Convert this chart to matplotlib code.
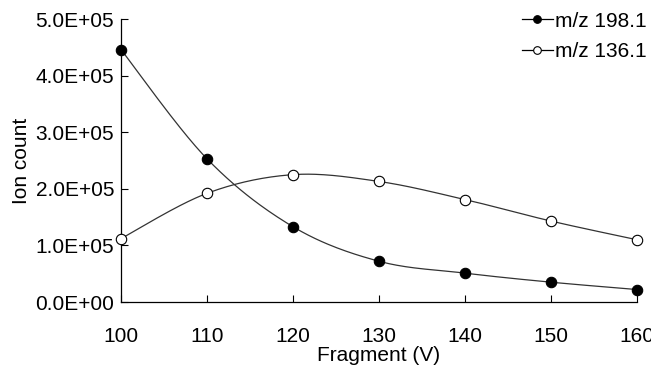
import numpy as np
import matplotlib
matplotlib.use("Agg")
import matplotlib.pyplot as plt
from matplotlib.ticker import FuncFormatter

plt.rcParams['font.family'] = ['Liberation Sans', 'DejaVu Sans']

fragment = [100, 110, 120, 130, 140, 150, 160]
mz198 = [4.46e5, 2.53e5, 1.33e5, 0.72e5, 0.51e5, 0.35e5, 0.22e5]
mz136 = [1.12e5, 1.92e5, 2.25e5, 2.13e5, 1.81e5, 1.43e5, 1.10e5]


def smooth(x, y, n=40):
    # Excel-like smoothed line: cubic Bezier segments, control points from neighbours
    x = np.asarray(x, float)
    y = np.asarray(y, float)
    px = np.concatenate([[x[0]], x, [x[-1]]])
    py = np.concatenate([[y[0]], y, [y[-1]]])
    xs, ys = [], []
    t = np.linspace(0, 1, n)
    for i in range(len(x) - 1):
        p0 = np.array([px[i + 1], py[i + 1]])
        p3 = np.array([px[i + 2], py[i + 2]])
        c1 = p0 + (np.array([px[i + 2], py[i + 2]]) - np.array([px[i], py[i]])) / 6
        c2 = p3 - (np.array([px[i + 3], py[i + 3]]) - np.array([px[i + 1], py[i + 1]])) / 6
        b = ((1 - t) ** 3)[:, None] * p0 + (3 * (1 - t) ** 2 * t)[:, None] * c1 \
            + (3 * (1 - t) * t ** 2)[:, None] * c2 + (t ** 3)[:, None] * p3
        xs.extend(b[:, 0])
        ys.extend(b[:, 1])
    return xs, ys


fig = plt.figure(figsize=(6.51, 3.67), dpi=100)
ax = fig.add_axes([121 / 651, 1 - 302 / 367, (637 - 121) / 651, (302 - 19) / 367])

for vals, face, lab in [(mz198, 'black', 'm/z 198.1'), (mz136, 'white', 'm/z 136.1')]:
    sx, sy = smooth(fragment, vals)
    ax.plot(sx, sy, color='#333333', lw=0.9, zorder=2)
    ax.plot(fragment, vals, ls='none', marker='o', ms=7.5, mfc=face, mec='black',
            mew=0.8, zorder=3, clip_on=False)
    ax.plot([], [], color='black', lw=0.9, marker='o', ms=5.5, mfc=face, mec='black',
            mew=0.8, label=lab)

ax.set_xlim(100, 160)
ax.set_ylim(0, 5e5)
ax.set_xticks(fragment)
ax.set_yticks(np.arange(0, 5.01e5, 1e5))
ax.yaxis.set_major_formatter(FuncFormatter(lambda v, p: f"{v:.1E}"))
ax.tick_params(direction='in', length=5, width=0.8, labelsize=15, pad=5)
ax.tick_params(axis='x', pad=18)
for s in ['top', 'right']:
    ax.spines[s].set_visible(False)
for s in ['left', 'bottom']:
    ax.spines[s].set_linewidth(0.9)

ax.set_xlabel('Fragment (V)', fontsize=15, labelpad=0)
ax.set_ylabel('Ion count', fontsize=15, labelpad=3)

ax.legend(loc='upper right', bbox_to_anchor=(1.035, 1.055), frameon=False, fontsize=15,
          handlelength=1.5, handletextpad=0.1, borderaxespad=0.0, labelspacing=0.55)

fig.savefig('out.png', dpi=100)
